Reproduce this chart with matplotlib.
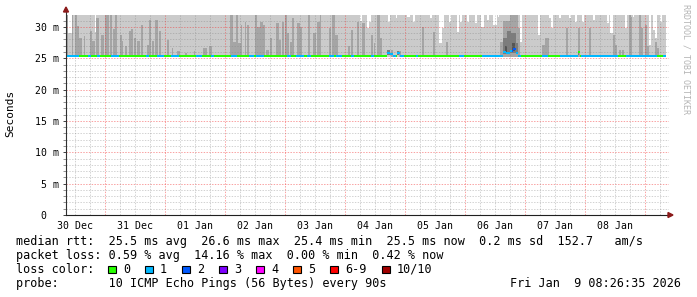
import numpy as np
import matplotlib.pyplot as plt
from matplotlib.patches import Rectangle, Polygon

W, H = 697, 297
MONO = 'DejaVu Sans Mono'

# x axis: hours since Dec 30 08:26:35, ten days shown
day_names = ['30 Dec', '31 Dec', '01 Jan', '02 Jan', '03 Jan',
             '04 Jan', '05 Jan', '06 Jan', '07 Jan', '08 Jan']
first_midnight = 15.56
span_hours = 240
y_top = 31.9

median_rtt = 25.4
smoke_floor = 25.15

# darker smoke: (start h, end h, top ms)
dark_spikes = [
    (0, 0.8, 31.9), (2.4, 2.8, 31.9), (3.6, 4.4, 31.9), (4.4, 5.2, 30.1), (5.2, 6.4, 28.2),
    (7.2, 7.6, 28.5), (9.6, 10.4, 29.3), (10.4, 11.6, 27.7), (12, 13.2, 31.4), (14, 15.2, 28.7),
    (15.6, 17.2, 31.9), (17.6, 18.4, 31.9), (18.8, 19.6, 29.6), (19.6, 20.4, 31.9), (21.6, 22.4, 28.7),
    (22.4, 22.8, 27.7), (23.6, 24.4, 26.9), (25.2, 26, 29.3), (26, 26.8, 29.6), (27.2, 28, 28.2),
    (28.4, 29.6, 27.7), (30, 30.8, 30.3), (32.4, 33.2, 27.1), (33.2, 34, 31.1), (34.4, 35.2, 27.7),
    (35.6, 36.8, 31.1), (37.2, 38, 29.3), (40.4, 41.2, 27.9), (42.4, 42.8, 26.6), (44.4, 45.6, 26.1),
    (47.6, 48.4, 25.8), (51.2, 51.6, 26.1), (54.8, 56.4, 26.6), (57.2, 58.4, 26.9),
    (65.6, 66.8, 31.9), (66.8, 68, 27.65), (68, 68.8, 31.9), (68.8, 70, 27.4), (70, 70.4, 30.3),
    (71.6, 72, 30.8), (72.4, 73.2, 30.3), (75.6, 76.4, 31.9), (76.4, 77.6, 30.0), (77.6, 78.8, 30.8),
    (78.8, 79.6, 30.3), (80, 81.2, 26.3), (81.6, 82.4, 28.2), (84, 85.2, 30.6), (85.2, 86, 27.9),
    (86.4, 87.2, 30.8), (87.6, 88.4, 31.9), (88.4, 89.2, 29.0), (89.6, 90.4, 27.65), (90.4, 91.2, 31.4),
    (92.4, 93.6, 30.6), (93.6, 94.4, 30.0), (96.8, 97.6, 31.9), (98.8, 100, 29.0), (100.4, 101.6, 30.8),
    (101.6, 102, 31.9), (105.2, 106, 29.8), (106.4, 107.6, 31.9), (107.6, 108.8, 28.7), (112.8, 113.6, 26.9),
    (114, 114.8, 29.5), (116.4, 117.2, 30.8), (118.4, 119.6, 30.7),
    (122, 122.8, 28.7), (123.2, 123.6, 27.4), (124.4, 125.6, 31.9), (125.6, 126.4, 28.2), (130, 130.8, 26.3),
    (133.2, 134, 26.1), (142.4, 143.2, 30.0), (146.8, 147.6, 29.25), (152, 152.8, 27.65),
    (173.6, 174.8, 27.65), (174.8, 177.6, 31.0), (177.6, 180.8, 31.9), (180.8, 181.6, 29.8),
    (190.4, 191.6, 27.1), (191.6, 193.2, 28.2), (200, 200.8, 29.8), (204.8, 205.6, 29.8), (209.2, 210, 29.8),
    (218.8, 219.6, 28.7), (219.6, 220.4, 27.1), (221.2, 222, 26.3), (222.4, 223.2, 26.3), (225.2, 226, 31.9),
    (226, 226.4, 31.6), (229.2, 230, 31.9), (230, 230.8, 29.8), (231.6, 232.4, 30.3), (232.4, 233.2, 26.9),
    (235.6, 236.4, 27.65), (236.4, 237.2, 26.6),
]

# places where the max ping stays below the top: (start h, end h, top ms)
light_notches = [
    (0.8, 2.4, 29.0), (11.6, 12.0, 29.2), (117.6, 118.4, 30.9), (120.4, 121.2, 29.8), (121.2, 122, 30.8),
    (128.8, 129.6, 30.8), (132, 132.4, 31.4), (136.4, 137.6, 31.6), (138.8, 139.6, 30.8), (145.6, 146.4, 31.4),
    (149.2, 150.4, 27.4), (150.4, 151.2, 29.8), (153.2, 154, 30.8), (156.4, 157.2, 29.25), (157.6, 158.4, 30.8),
    (160.4, 161.2, 30.8), (163.6, 164.4, 30.6), (166, 167.2, 30.0), (168.4, 169.2, 31.1), (170.8, 172.4, 30.3),
    (172.8, 173.2, 31.6), (181.6, 182.4, 27.65), (188.8, 189.6, 28.7), (193.2, 194, 31.4), (194, 194.8, 29.8),
    (197.2, 198, 31.4), (201.2, 202, 31.4), (203.6, 204.4, 30.8), (206.4, 207.2, 30.8), (210.8, 211.6, 31.1),
    (216.4, 217.2, 30.6), (217.6, 218.8, 29.0), (223.6, 224.4, 29.8), (226.8, 227.2, 31.6), (233.2, 234, 27.1),
    (234.8, 235.6, 29.5), (235.6, 236.4, 28.2), (237.6, 238.4, 30.8),
]

# darkest smoke around the Jan 6 event: (start h, end h, bottom ms, top ms)
deep_smoke = [
    (174.8, 176.4, 25.6, 28.2), (176.4, 178, 25.8, 29.3), (178, 180, 25.8, 29.0), (180, 180.8, 25.6, 27.4),
    (128.4, 129.6, 25.5, 26.3), (132.4, 133.2, 25.5, 26.1), (204.8, 205.2, 25.5, 26.1),
]
deepest_smoke = [(175.6, 176.4, 25.9, 26.9), (178.4, 179.6, 26.2, 27.4)]

# median line departures from the usual value
median_bumps = [
    (128.4, 129.6, 25.9), (129.6, 130.8, 25.7), (132.4, 133.6, 25.8), (174.8, 176, 26.0),
    (176, 177.6, 25.8), (177.6, 178.8, 26.2), (178.8, 180, 26.5), (180, 180.8, 25.9), (204.8, 205.6, 26.0),
]

# packet loss along the median line (segment start hours, lost pings)
loss_start = [0, 5.2, 8.8, 10, 12.4, 13.6, 18, 21.2, 32, 33.2, 36.4, 39.2, 42, 45.2, 52, 54.4, 58, 59.2,
              66, 68.4, 73.2, 75.2, 76, 79.2, 88.4, 90, 92, 95.2, 96.4, 98, 105.2, 107.2, 108, 110.4,
              114, 115.2, 122, 123.2, 128.4, 132, 132.4, 135.2, 140, 140.8, 157.2, 159.2, 166.4, 178.4,
              180, 182, 190.4, 192.8, 197.6, 204.8, 206, 220.8, 224, 236.4, 238.8]
loss_level = [1, 0, 1, 0, 1, 0, 1, 0, 1, 0, 1, 0, 1, 0, 1, 0, 1, 0,
              1, 0, 1, 0, 1, 0, 1, 0, 1, 0, 1, 0, 1, 0, 1, 0,
              1, 0, 1, 0, 1, 0, 1, 0, 1, 0, 1, 0, 1, 2,
              1, 0, 1, 0, 1, 0, 1, 0, 1, 0, 1]

loss_names = ['0', '1', '2', '3', '4', '5', '6-9', '10/10']
loss_colors = ['#26ff00', '#00b8ff', '#0059ff', '#7e00ff', '#ff00ff', '#ff5500', '#ff0000', '#a10000']

legend_lines = [
    'median rtt:  25.5 ms avg  26.6 ms max  25.4 ms min  25.5 ms now  0.2 ms sd  152.7   am/s',
    'packet loss: 0.59 % avg  14.16 % max  0.00 % min  0.42 % now',
]
probe_text = 'probe:       10 ICMP Echo Pings (56 Bytes) every 90s'
stamp_text = 'Fri Jan  9 08:26:35 2026'

# ---- per-column arrays (one rrd step = 0.4 h) ----
step = 0.4
n = int(span_hours / step)
cols = np.arange(n) * step


def idx(h):
    return int(round(h / step))


light = np.full(n, y_top)
for a, b, v in light_notches:
    light[idx(a):idx(b)] = v
dark = np.full(n, np.nan)
for a, b, v in dark_spikes:
    dark[idx(a):idx(b)] = v
med = np.full(n, median_rtt)
for a, b, v in median_bumps:
    med[idx(a):idx(b)] = v
loss = np.zeros(n, dtype=int)
for a, lv in zip(loss_start, loss_level):
    loss[idx(a):] = lv

fig = plt.figure(figsize=(W / 100, H / 100), dpi=100)
ax = fig.add_axes([66 / W, 82 / H, 602.5 / W, 200 / H])
ax.set_xlim(0, 241)
ax.set_ylim(0, y_top)

ax.bar(cols, light - smoke_floor, width=step, bottom=smoke_floor, align='edge',
       color='#cbcbcb', linewidth=0, antialiased=False, zorder=1)
ok = ~np.isnan(dark)
ax.bar(cols[ok], dark[ok] - smoke_floor, width=step, bottom=smoke_floor, align='edge',
       color='#a5a5a5', linewidth=0, antialiased=False, zorder=1.5)
for a, b, lo, hi in deep_smoke:
    ax.bar(a, hi - lo, width=b - a, bottom=lo, align='edge', color='#7c7c7c',
           linewidth=0, antialiased=False, zorder=1.6)
for a, b, lo, hi in deepest_smoke:
    ax.bar(a, hi - lo, width=b - a, bottom=lo, align='edge', color='#555555',
           linewidth=0, antialiased=False, zorder=1.7)

# dotted grid drawn over the smoke, rrdtool style
minor_c = (0.5, 0.5, 0.5, 0.35)
major_c = (0.95, 0.2, 0.2, 0.45)
dots = (0, (1.4, 1.4))
for v in np.arange(1, 32):
    if v % 5:
        ax.axhline(v, color=minor_c, lw=0.72, ls=dots, zorder=3)
for v in np.arange(5, 31, 5):
    ax.axhline(v, color=major_c, lw=0.72, ls=dots, zorder=3)
for k in range(-2, 40):
    h = first_midnight + 6 * k
    if 0 < h < 241:
        c = major_c if k % 4 == 0 else minor_c
        ax.axvline(h, color=c, lw=0.72, ls=dots, zorder=3)

# median line coloured by packet loss
ax.bar(cols, 0.32, width=step, bottom=med - 0.16, align='edge',
       color=[loss_colors[l] for l in loss], linewidth=0, antialiased=False, zorder=4)

# axes and arrows
for s in ['top', 'right', 'left', 'bottom']:
    ax.spines[s].set_visible(False)
ax.plot([0, 0], [0, y_top + 0.6], color='#303030', lw=0.8, clip_on=False, zorder=5)
ax.plot([0, 242], [0, 0], color='#202020', lw=0.8, clip_on=False, zorder=5)
fig.patches.append(Polygon([(63.5 / W, 1 - 12 / H), (68.5 / W, 1 - 12 / H), (66 / W, 1 - 7 / H)],
                           closed=True, transform=fig.transFigure, color='#8b1a1a'))
fig.patches.append(Polygon([(668 / W, 1 - 212.5 / H), (668 / W, 1 - 217.5 / H), (673 / W, 1 - 215 / H)],
                           closed=True, transform=fig.transFigure, color='#8b1a1a'))

yt = [0, 5, 10, 15, 20, 25, 30]
ax.set_yticks(yt)
ax.set_yticklabels(['0  '] + ['%d m' % v for v in yt[1:]], fontfamily=MONO, fontsize=7.1)
ax.set_yticks(np.arange(0, 32), minor=True)
ax.tick_params(axis='y', which='major', length=2, width=0.7, color='#404040', pad=3)
ax.tick_params(axis='y', which='minor', length=2, width=0.7, color='#909090')
ax.set_xticks([first_midnight - 12 + 24 * k for k in range(len(day_names))])
ax.set_xticklabels(day_names, fontfamily=MONO, fontsize=7.1)
ax.tick_params(axis='x', length=0, pad=4)

fig.text(10 / W, 1 - 113 / H, 'Seconds', rotation=90, ha='center', va='center',
         fontfamily=MONO, fontsize=8)
fig.text(686 / W, 1 - 59 / H, 'RRDTOOL / TOBI OETIKER', rotation=270, ha='center', va='center',
         fontfamily=MONO, fontsize=6, color='#b4b4b4')

# legend block
fs = 8.5
fig.text(16 / W, 1 - 245.5 / H, legend_lines[0], fontfamily=MONO, fontsize=fs, va='baseline')
fig.text(16 / W, 1 - 259 / H, legend_lines[1], fontfamily=MONO, fontsize=fs, va='baseline')
fig.text(16 / W, 1 - 273 / H, 'loss color:', fontfamily=MONO, fontsize=fs, va='baseline')
box_x = [108, 145, 182, 219, 256, 293, 330, 382]
for bx, name, col in zip(box_x, loss_names, loss_colors):
    fig.patches.append(Rectangle((bx / W, 1 - 273 / H), 7.5 / W, 7.5 / H, transform=fig.transFigure,
                                 facecolor=col, edgecolor='black', lw=0.8))
    fig.text((bx + 15) / W, 1 - 273 / H, name, fontfamily=MONO, fontsize=fs, va='baseline')
fig.text(16 / W, 1 - 287 / H, probe_text, fontfamily=MONO, fontsize=fs, va='baseline')
fig.text(681 / W, 1 - 287 / H, stamp_text, fontfamily=MONO, fontsize=fs, va='baseline', ha='right')

fig.savefig('out.png', dpi=100)
